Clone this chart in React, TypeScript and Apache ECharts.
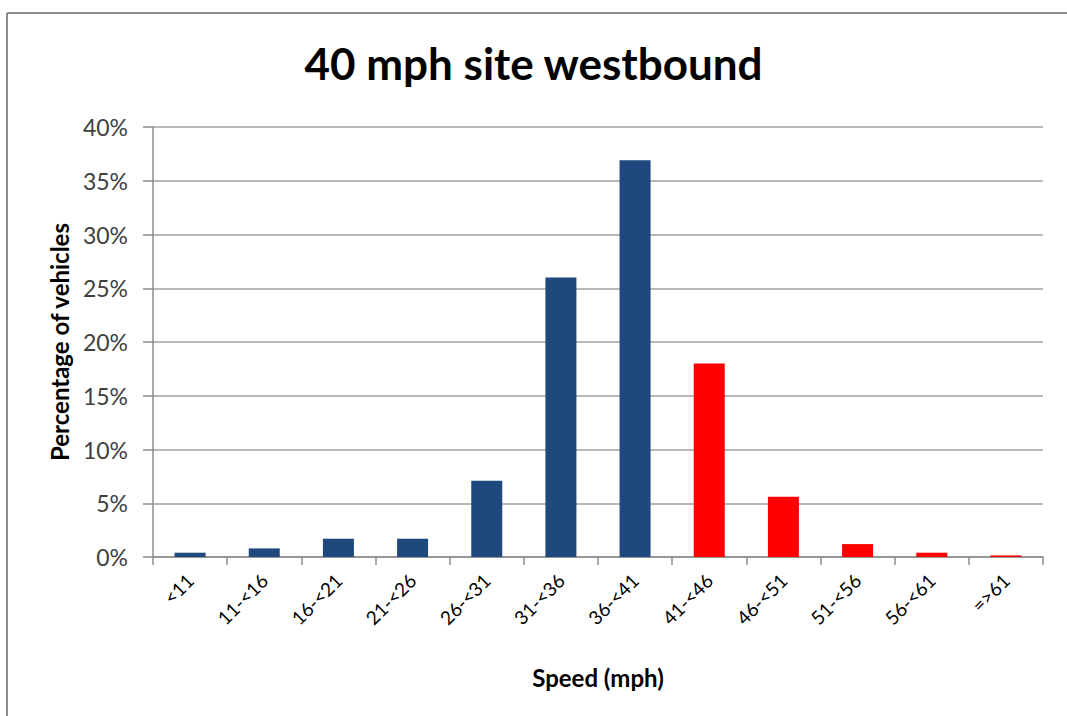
import React, { useEffect, useRef } from "react";
import * as echarts from "echarts";

const categories = ["<11", "11-<16", "16-<21", "21-<26", "26-<31", "31-<36", "36-<41", "41-<46", "46-<51", "51-<56", "56-<61", "=>61"];
const percentages = [0.4, 0.8, 1.7, 1.7, 7.1, 26.0, 36.9, 18.0, 5.6, 1.2, 0.4, 0.15];
const overLimit = [false, false, false, false, false, false, false, true, true, true, true, true];
const yTicks = [0, 5, 10, 15, 20, 25, 30, 35, 40];

const FONT = "Lato, 'Open Sans', sans-serif";

export default function App() {
  const ref = useRef<HTMLDivElement>(null);
  useEffect(() => {
    if (!ref.current) return;
    const chart = echarts.init(ref.current, undefined, { renderer: "svg" });
    chart.setOption({
      animation: false,
      backgroundColor: "#ffffff",
      title: {
        text: "40 mph site westbound",
        left: "center",
        top: 36,
        textStyle: { fontFamily: FONT, fontWeight: "bold", fontSize: 44, color: "#000" },
      },
      graphic: [
        { type: "line", shape: { x1: 7, y1: 13, x2: 7, y2: 716 }, style: { stroke: "#8c8c8c", lineWidth: 2 } },
        { type: "line", shape: { x1: 7, y1: 13, x2: 1067, y2: 13 }, style: { stroke: "#8c8c8c", lineWidth: 2 } },
      ],
      grid: { left: 153, right: 24, top: 127, bottom: 159 },
      xAxis: {
        type: "category",
        data: categories,
        name: "Speed (mph)",
        nameLocation: "middle",
        nameGap: 108,
        nameTextStyle: { fontFamily: FONT, fontWeight: "bold", fontSize: 24, color: "#000" },
        axisLine: { lineStyle: { color: "#8c8c8c", width: 1.5 } },
        axisTick: { show: true, length: 8, lineStyle: { color: "#8c8c8c", width: 1.5 } },
        axisLabel: { rotate: 45, fontFamily: FONT, fontSize: 19, color: "#000", margin: 20, interval: 0 },
      },
      yAxis: {
        type: "value",
        min: 0,
        max: 40,
        interval: 5,
        name: "Percentage of vehicles",
        nameLocation: "middle",
        nameGap: 80,
        nameTextStyle: { fontFamily: FONT, fontWeight: "bold", fontSize: 24, color: "#000" },
        axisLine: { show: true, lineStyle: { color: "#8c8c8c", width: 1.5 } },
        axisTick: { show: true, length: 10, lineStyle: { color: "#8c8c8c", width: 1.5 } },
        splitLine: { lineStyle: { color: "#a0a0a0", width: 1.5 } },
        axisLabel: {
          fontFamily: FONT,
          fontSize: 23,
          color: "#404040",
          margin: 25,
          formatter: (v: number) => (yTicks.includes(v) ? `${v}%` : ""),
        },
      },
      series: [
        {
          type: "bar",
          barWidth: 31,
          data: percentages.map((v, i) => ({
            value: v,
            itemStyle: { color: overLimit[i] ? "#ff0000" : "#1f497d" },
          })),
        },
      ],
    });
    return () => chart.dispose();
  }, []);
  return <div ref={ref} style={{ position: "absolute", left: 0, top: 0, width: 1067, height: 716 }} />;
}
